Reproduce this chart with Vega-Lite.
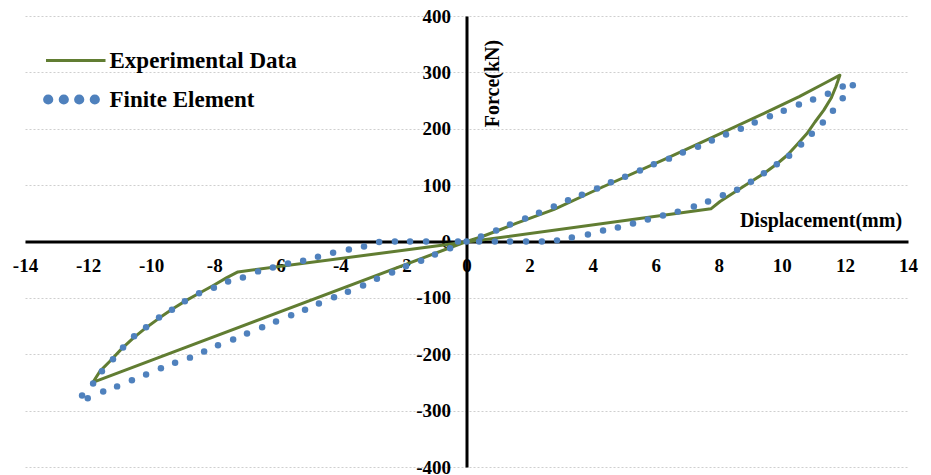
{
  "$schema": "https://vega.github.io/schema/vega-lite/v6.json",
  "autosize": {"type": "none"},
  "padding": {"left": 25, "top": 16, "right": 23, "bottom": 8},
  "width": 883,
  "height": 451,
  "background": "white",
  "config": {
    "view": {"stroke": null},
    "font": "Liberation Serif"
  },
  "encoding": {
    "x": {
      "field": "d", "type": "quantitative",
      "scale": {"domain": [-14, 14], "nice": false, "zero": false},
      "axis": {
        "orient": "bottom", "offset": -225.5,
        "values": [-14, -12, -10, -8, -6, -4, -2, 0, 2, 4, 6, 8, 10, 12, 14],
        "labelExpr": "datum.value < 0 ? '-' + abs(datum.value) : '' + datum.value",
        "grid": false, "ticks": false, "tickSize": 0,
        "domainColor": "#000000", "domainWidth": 3,
        "labelFont": "Liberation Serif", "labelFontWeight": "bold", "labelFontSize": 19, "labelColor": "#000000",
        "labelPadding": 15, "labelFlush": false, "labelOverlap": false,
        "title": "Displacement(mm)",
        "titleFont": "Liberation Serif", "titleFontWeight": "bold", "titleFontSize": 20, "titleColor": "#000000",
        "titleX": 795.5, "titleY": -15, "titleAlign": "center", "titleBaseline": "alphabetic", "titleAnchor": null
      }
    },
    "y": {
      "field": "f", "type": "quantitative",
      "scale": {"domain": [-400, 400], "nice": false, "zero": false},
      "axis": {
        "orient": "left", "offset": -441.5,
        "values": [-400, -300, -200, -100, 0, 100, 200, 300, 400],
        "labelExpr": "datum.value < 0 ? '-' + abs(datum.value) : '' + datum.value",
        "grid": true, "gridColor": "#cfcfcf", "gridDash": [2, 2], "gridWidth": 1,
        "ticks": false, "tickSize": 0,
        "domainColor": "#000000", "domainWidth": 3,
        "labelFont": "Liberation Serif", "labelFontWeight": "bold", "labelFontSize": 19, "labelColor": "#000000",
        "labelPadding": 16, "labelFlush": false, "labelOverlap": false,
        "title": "Force(kN)",
        "titleFont": "Liberation Serif", "titleFontWeight": "bold", "titleFontSize": 20, "titleColor": "#000000",
        "titleAngle": -90, "titleX": 31.5, "titleY": 67, "titleAlign": "center", "titleBaseline": "alphabetic", "titleAnchor": null
      }
    },
    "color": {
      "field": "series", "type": "nominal",
      "scale": {"domain": ["Experimental Data", "Finite Element"], "range": ["#617D32", "#4F81BD"]},
      "legend": {
        "orient": "none", "legendX": 39.5, "legendY": 33, "direction": "vertical",
        "title": null, "padding": 0,
        "symbolSize": 400, "symbolStrokeWidth": 3,
        "labelFont": "Liberation Serif", "labelFontWeight": "bold", "labelFontSize": 23, "labelColor": "#000000",
        "labelOffset": 22, "labelLimit": 0, "rowPadding": 15,
        "encode": {
          "symbols": {
            "update": {
              "shape": {"signal": "datum.value === 'Experimental Data' ? 'M-3,0H2.95' : 'M-3.14,0a0.36,0.36 0 1,0 0.72,0a0.36,0.36 0 1,0 -0.72,0M-1.58,0a0.36,0.36 0 1,0 0.72,0a0.36,0.36 0 1,0 -0.72,0M-0.04,0a0.36,0.36 0 1,0 0.72,0a0.36,0.36 0 1,0 -0.72,0M1.52,0a0.36,0.36 0 1,0 0.72,0a0.36,0.36 0 1,0 -0.72,0'"},
              "fill": {"signal": "datum.value === 'Experimental Data' ? 'transparent' : '#4F81BD'"},
              "stroke": {"signal": "datum.value === 'Experimental Data' ? '#617D32' : 'transparent'"},
              "strokeWidth": {"value": 3},
              "opacity": {"value": 1}
            }
          }
        }
      }
    }
  },
  "layer": [
    {
      "data": {"values": [
        {"series": "Experimental Data", "order": 0, "d": 0, "f": 0},
        {"series": "Experimental Data", "order": 1, "d": 0.46, "f": 8},
        {"series": "Experimental Data", "order": 2, "d": 1.57, "f": 32},
        {"series": "Experimental Data", "order": 3, "d": 2.78, "f": 57},
        {"series": "Experimental Data", "order": 4, "d": 4.21, "f": 94},
        {"series": "Experimental Data", "order": 5, "d": 6.33, "f": 147},
        {"series": "Experimental Data", "order": 6, "d": 7.81, "f": 185},
        {"series": "Experimental Data", "order": 7, "d": 9.5, "f": 229},
        {"series": "Experimental Data", "order": 8, "d": 10.55, "f": 257},
        {"series": "Experimental Data", "order": 9, "d": 11.4, "f": 282},
        {"series": "Experimental Data", "order": 10, "d": 11.84, "f": 295},
        {"series": "Experimental Data", "order": 11, "d": 11.71, "f": 274},
        {"series": "Experimental Data", "order": 12, "d": 11.56, "f": 254},
        {"series": "Experimental Data", "order": 13, "d": 11.33, "f": 233},
        {"series": "Experimental Data", "order": 14, "d": 11.05, "f": 212},
        {"series": "Experimental Data", "order": 15, "d": 10.79, "f": 191},
        {"series": "Experimental Data", "order": 16, "d": 10.47, "f": 171},
        {"series": "Experimental Data", "order": 17, "d": 10.17, "f": 153},
        {"series": "Experimental Data", "order": 18, "d": 9.83, "f": 137},
        {"series": "Experimental Data", "order": 19, "d": 9.44, "f": 121},
        {"series": "Experimental Data", "order": 20, "d": 8.99, "f": 105},
        {"series": "Experimental Data", "order": 21, "d": 8.46, "f": 86},
        {"series": "Experimental Data", "order": 22, "d": 8.04, "f": 71},
        {"series": "Experimental Data", "order": 23, "d": 7.75, "f": 58},
        {"series": "Experimental Data", "order": 24, "d": 0, "f": -1},
        {"series": "Experimental Data", "order": 25, "d": -7.25, "f": -54},
        {"series": "Experimental Data", "order": 26, "d": -7.6, "f": -64},
        {"series": "Experimental Data", "order": 27, "d": -8.03, "f": -78},
        {"series": "Experimental Data", "order": 28, "d": -8.45, "f": -91},
        {"series": "Experimental Data", "order": 29, "d": -8.87, "f": -104},
        {"series": "Experimental Data", "order": 30, "d": -9.3, "f": -119},
        {"series": "Experimental Data", "order": 31, "d": -9.72, "f": -135},
        {"series": "Experimental Data", "order": 32, "d": -10.14, "f": -152},
        {"series": "Experimental Data", "order": 33, "d": -10.56, "f": -171},
        {"series": "Experimental Data", "order": 34, "d": -10.93, "f": -190},
        {"series": "Experimental Data", "order": 35, "d": -11.3, "f": -212},
        {"series": "Experimental Data", "order": 36, "d": -11.62, "f": -230},
        {"series": "Experimental Data", "order": 37, "d": -11.85, "f": -250},
        {"series": "Experimental Data", "order": 38, "d": 0, "f": 0}
      ]},
      "mark": {"type": "line", "strokeWidth": 3, "interpolate": "linear", "strokeJoin": "round"},
      "encoding": {"order": {"field": "order", "type": "quantitative"}}
    },
    {
      "data": {"values": [
        {"series": "Finite Element", "d": 0, "f": 0},
        {"series": "Finite Element", "d": 0.46, "f": 9},
        {"series": "Finite Element", "d": 0.94, "f": 19.5},
        {"series": "Finite Element", "d": 1.38, "f": 30},
        {"series": "Finite Element", "d": 1.86, "f": 41},
        {"series": "Finite Element", "d": 2.3, "f": 51},
        {"series": "Finite Element", "d": 2.77, "f": 62},
        {"series": "Finite Element", "d": 3.22, "f": 73},
        {"series": "Finite Element", "d": 3.66, "f": 83},
        {"series": "Finite Element", "d": 4.14, "f": 94},
        {"series": "Finite Element", "d": 4.58, "f": 105},
        {"series": "Finite Element", "d": 5.03, "f": 115},
        {"series": "Finite Element", "d": 5.5, "f": 126},
        {"series": "Finite Element", "d": 5.94, "f": 137},
        {"series": "Finite Element", "d": 6.42, "f": 147},
        {"series": "Finite Element", "d": 6.86, "f": 158},
        {"series": "Finite Element", "d": 7.34, "f": 168},
        {"series": "Finite Element", "d": 7.78, "f": 179},
        {"series": "Finite Element", "d": 8.23, "f": 190},
        {"series": "Finite Element", "d": 8.7, "f": 200},
        {"series": "Finite Element", "d": 9.14, "f": 211},
        {"series": "Finite Element", "d": 9.62, "f": 222},
        {"series": "Finite Element", "d": 10.06, "f": 232},
        {"series": "Finite Element", "d": 10.54, "f": 243},
        {"series": "Finite Element", "d": 10.99, "f": 252},
        {"series": "Finite Element", "d": 11.46, "f": 262},
        {"series": "Finite Element", "d": 11.93, "f": 275},
        {"series": "Finite Element", "d": 12.25, "f": 277},
        {"series": "Finite Element", "d": 11.93, "f": 254},
        {"series": "Finite Element", "d": 11.62, "f": 232},
        {"series": "Finite Element", "d": 11.3, "f": 211},
        {"series": "Finite Element", "d": 10.95, "f": 191},
        {"series": "Finite Element", "d": 10.61, "f": 172},
        {"series": "Finite Element", "d": 10.23, "f": 152},
        {"series": "Finite Element", "d": 9.84, "f": 137},
        {"series": "Finite Element", "d": 9.43, "f": 121},
        {"series": "Finite Element", "d": 9.02, "f": 106},
        {"series": "Finite Element", "d": 8.58, "f": 92},
        {"series": "Finite Element", "d": 8.13, "f": 82},
        {"series": "Finite Element", "d": 7.66, "f": 71},
        {"series": "Finite Element", "d": 7.21, "f": 62},
        {"series": "Finite Element", "d": 6.7, "f": 53},
        {"series": "Finite Element", "d": 6.23, "f": 46},
        {"series": "Finite Element", "d": 5.75, "f": 39},
        {"series": "Finite Element", "d": 5.28, "f": 32},
        {"series": "Finite Element", "d": 4.8, "f": 25},
        {"series": "Finite Element", "d": 4.33, "f": 19.5},
        {"series": "Finite Element", "d": 3.85, "f": 12.4},
        {"series": "Finite Element", "d": 3.34, "f": 7},
        {"series": "Finite Element", "d": 2.87, "f": 2},
        {"series": "Finite Element", "d": 2.39, "f": 0},
        {"series": "Finite Element", "d": 1.89, "f": 0},
        {"series": "Finite Element", "d": 1.38, "f": 0},
        {"series": "Finite Element", "d": 0.9, "f": 0},
        {"series": "Finite Element", "d": 0.4, "f": 0},
        {"series": "Finite Element", "d": -0.27, "f": 0},
        {"series": "Finite Element", "d": -1.28, "f": 0},
        {"series": "Finite Element", "d": -1.79, "f": 0},
        {"series": "Finite Element", "d": -2.27, "f": 0},
        {"series": "Finite Element", "d": -2.77, "f": -1},
        {"series": "Finite Element", "d": -3.25, "f": -9},
        {"series": "Finite Element", "d": -3.73, "f": -14},
        {"series": "Finite Element", "d": -4.23, "f": -20},
        {"series": "Finite Element", "d": -4.71, "f": -27},
        {"series": "Finite Element", "d": -5.18, "f": -34},
        {"series": "Finite Element", "d": -5.66, "f": -39},
        {"series": "Finite Element", "d": -6.14, "f": -46},
        {"series": "Finite Element", "d": -6.61, "f": -53},
        {"series": "Finite Element", "d": -7.09, "f": -64},
        {"series": "Finite Element", "d": -7.56, "f": -71},
        {"series": "Finite Element", "d": -8.01, "f": -82},
        {"series": "Finite Element", "d": -8.48, "f": -92},
        {"series": "Finite Element", "d": -8.93, "f": -106},
        {"series": "Finite Element", "d": -9.34, "f": -121},
        {"series": "Finite Element", "d": -9.75, "f": -135},
        {"series": "Finite Element", "d": -10.16, "f": -152},
        {"series": "Finite Element", "d": -10.54, "f": -168},
        {"series": "Finite Element", "d": -10.89, "f": -188},
        {"series": "Finite Element", "d": -11.21, "f": -209},
        {"series": "Finite Element", "d": -11.56, "f": -230},
        {"series": "Finite Element", "d": -11.84, "f": -252},
        {"series": "Finite Element", "d": -12.19, "f": -273},
        {"series": "Finite Element", "d": -12.01, "f": -278},
        {"series": "Finite Element", "d": -11.52, "f": -266},
        {"series": "Finite Element", "d": -11.08, "f": -257},
        {"series": "Finite Element", "d": -10.61, "f": -246},
        {"series": "Finite Element", "d": -10.16, "f": -236},
        {"series": "Finite Element", "d": -9.69, "f": -225},
        {"series": "Finite Element", "d": -9.24, "f": -215},
        {"series": "Finite Element", "d": -8.77, "f": -206},
        {"series": "Finite Element", "d": -8.32, "f": -195},
        {"series": "Finite Element", "d": -7.88, "f": -184},
        {"series": "Finite Element", "d": -7.4, "f": -174},
        {"series": "Finite Element", "d": -6.96, "f": -163},
        {"series": "Finite Element", "d": -6.48, "f": -152},
        {"series": "Finite Element", "d": -6.04, "f": -142},
        {"series": "Finite Element", "d": -5.56, "f": -131},
        {"series": "Finite Element", "d": -5.12, "f": -121},
        {"series": "Finite Element", "d": -4.68, "f": -110},
        {"series": "Finite Element", "d": -4.2, "f": -99},
        {"series": "Finite Element", "d": -3.76, "f": -89},
        {"series": "Finite Element", "d": -3.28, "f": -78},
        {"series": "Finite Element", "d": -2.84, "f": -66},
        {"series": "Finite Element", "d": -2.36, "f": -55},
        {"series": "Finite Element", "d": -1.92, "f": -44},
        {"series": "Finite Element", "d": -1.44, "f": -34},
        {"series": "Finite Element", "d": -1.0, "f": -23},
        {"series": "Finite Element", "d": -0.52, "f": -12}
      ]},
      "mark": {"type": "point", "filled": true, "size": 42, "opacity": 1, "shape": "circle"}
    }
  ]
}
